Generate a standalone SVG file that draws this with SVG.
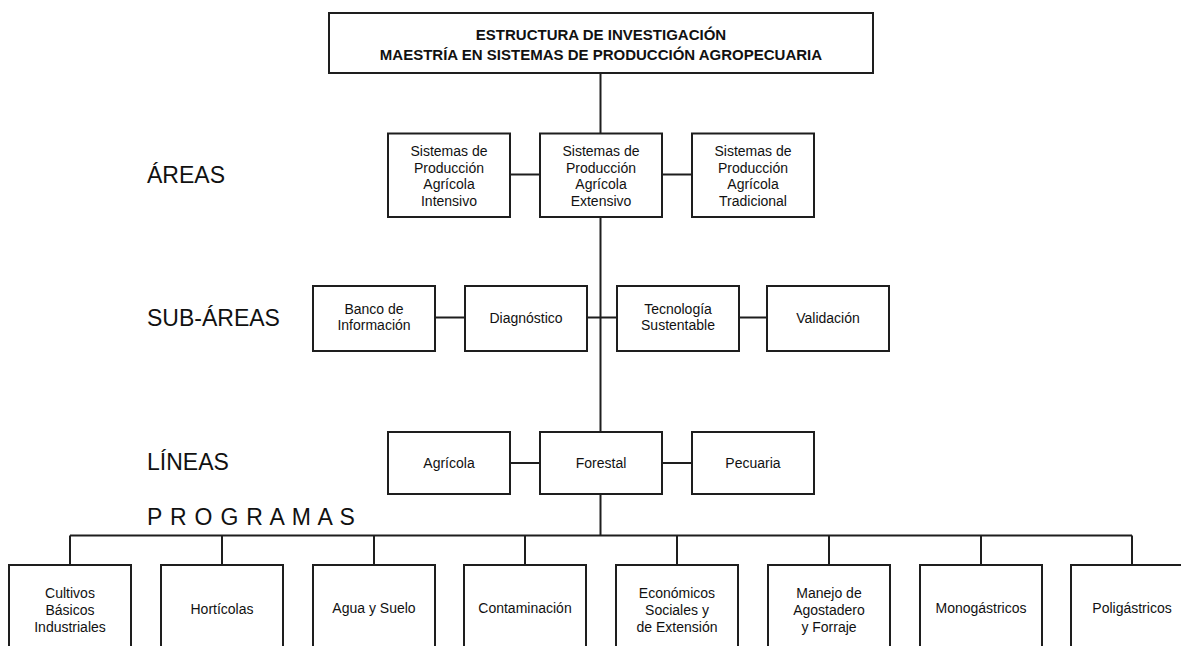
<svg xmlns="http://www.w3.org/2000/svg" width="1181" height="646" viewBox="0 0 1181 646">
<style>
.box{fill:#fff;stroke:#1e1e1e;stroke-width:2}
.ln{stroke:#1e1e1e;stroke-width:2;fill:none}
.t{font-family:"Liberation Sans",Arial,sans-serif;font-size:14px;text-anchor:middle;fill:#111}
.h{font-family:"Liberation Sans",Arial,sans-serif;font-size:15px;font-weight:bold;text-anchor:middle;fill:#111}
.lbl{font-family:"Liberation Sans",Arial,sans-serif;font-size:23px;fill:#111}
</style>
<rect width="1181" height="646" fill="#fff"/>
<g id="connectors">
<path class="ln" d="M600.5 73V535.5"/>
<path class="ln" d="M510 174.5H540M662 174.5H692"/>
<path class="ln" d="M435 317.5H465M587 317.5H617M739 317.5H767"/>
<path class="ln" d="M510 463H540M662 463H692"/>
<path class="ln" d="M70 535.5H1132"/>
<path class="ln" d="M70 535.5V565M222 535.5V565M374 535.5V565M525 535.5V565M677 535.5V565M829 535.5V565M981 535.5V565M1132 535.5V565"/>
</g>
<g id="labels">
<text class="lbl" x="147" y="183">ÁREAS</text>
<text class="lbl" x="147" y="326">SUB-ÁREAS</text>
<text class="lbl" x="147" y="470">LÍNEAS</text>
<text class="lbl" x="147" y="525" letter-spacing="0.8">P R O G R A M A S</text>
</g>
<g id="title">
<rect class="box" x="329" y="13" width="544" height="60"/>
<text class="h" x="601" y="39.5">ESTRUCTURA DE INVESTIGACIÓN</text>
<text class="h" x="601" y="60">MAESTRÍA EN SISTEMAS DE PRODUCCIÓN AGROPECUARIA</text>
</g>
<g id="area-intensivo">
<rect class="box" x="388" y="133.5" width="122" height="83.5"/>
<text class="t" x="449" y="156">Sistemas de</text>
<text class="t" x="449" y="172.7">Producción</text>
<text class="t" x="449" y="189.4">Agrícola</text>
<text class="t" x="449" y="206">Intensivo</text>
</g>
<g id="area-extensivo">
<rect class="box" x="540" y="133.5" width="122" height="83.5"/>
<text class="t" x="601" y="156">Sistemas de</text>
<text class="t" x="601" y="172.7">Producción</text>
<text class="t" x="601" y="189.4">Agrícola</text>
<text class="t" x="601" y="206">Extensivo</text>
</g>
<g id="area-tradicional">
<rect class="box" x="692" y="133.5" width="122" height="83.5"/>
<text class="t" x="753" y="156">Sistemas de</text>
<text class="t" x="753" y="172.7">Producción</text>
<text class="t" x="753" y="189.4">Agrícola</text>
<text class="t" x="753" y="206">Tradicional</text>
</g>
<g id="sub-banco">
<rect class="box" x="313" y="286" width="122" height="65"/>
<text class="t" x="374" y="313.5">Banco de</text>
<text class="t" x="374" y="330">Información</text>
</g>
<g id="sub-diagnostico">
<rect class="box" x="465" y="286" width="122" height="65"/>
<text class="t" x="526" y="322.5">Diagnóstico</text>
</g>
<g id="sub-tecnologia">
<rect class="box" x="617" y="286" width="122" height="65"/>
<text class="t" x="678" y="313.5">Tecnología</text>
<text class="t" x="678" y="330">Sustentable</text>
</g>
<g id="sub-validacion">
<rect class="box" x="767" y="286" width="122" height="65"/>
<text class="t" x="828" y="322.5">Validación</text>
</g>
<g id="linea-agricola">
<rect class="box" x="388" y="432" width="122" height="62"/>
<text class="t" x="449" y="468">Agrícola</text>
</g>
<g id="linea-forestal">
<rect class="box" x="540" y="432" width="122" height="62"/>
<text class="t" x="601" y="468">Forestal</text>
</g>
<g id="linea-pecuaria">
<rect class="box" x="692" y="432" width="122" height="62"/>
<text class="t" x="753" y="468">Pecuaria</text>
</g>
<g id="prog-cultivos">
<rect class="box" x="9" y="565" width="122" height="92"/>
<text class="t" x="70" y="597.7">Cultivos</text>
<text class="t" x="70" y="614.5">Básicos</text>
<text class="t" x="70" y="631.5">Industriales</text>
</g>
<g id="prog-horticolas">
<rect class="box" x="161" y="565" width="122" height="92"/>
<text class="t" x="222" y="614">Hortícolas</text>
</g>
<g id="prog-agua">
<rect class="box" x="313" y="565" width="122" height="92"/>
<text class="t" x="374" y="613">Agua y Suelo</text>
</g>
<g id="prog-contaminacion">
<rect class="box" x="464" y="565" width="122" height="92"/>
<text class="t" x="525" y="613">Contaminación</text>
</g>
<g id="prog-economicos">
<rect class="box" x="616" y="565" width="122" height="92"/>
<text class="t" x="677" y="597.7">Económicos</text>
<text class="t" x="677" y="614.5">Sociales y</text>
<text class="t" x="677" y="631.5">de Extensión</text>
</g>
<g id="prog-manejo">
<rect class="box" x="768" y="565" width="122" height="92"/>
<text class="t" x="829" y="597.7">Manejo de</text>
<text class="t" x="829" y="614.5">Agostadero</text>
<text class="t" x="829" y="631.5">y Forraje</text>
</g>
<g id="prog-monogastricos">
<rect class="box" x="920" y="565" width="122" height="92"/>
<text class="t" x="981" y="613">Monogástricos</text>
</g>
<g id="prog-poligastricos">
<rect class="box" x="1071" y="565" width="122" height="92"/>
<text class="t" x="1132" y="613">Poligástricos</text>
</g>
</svg>
